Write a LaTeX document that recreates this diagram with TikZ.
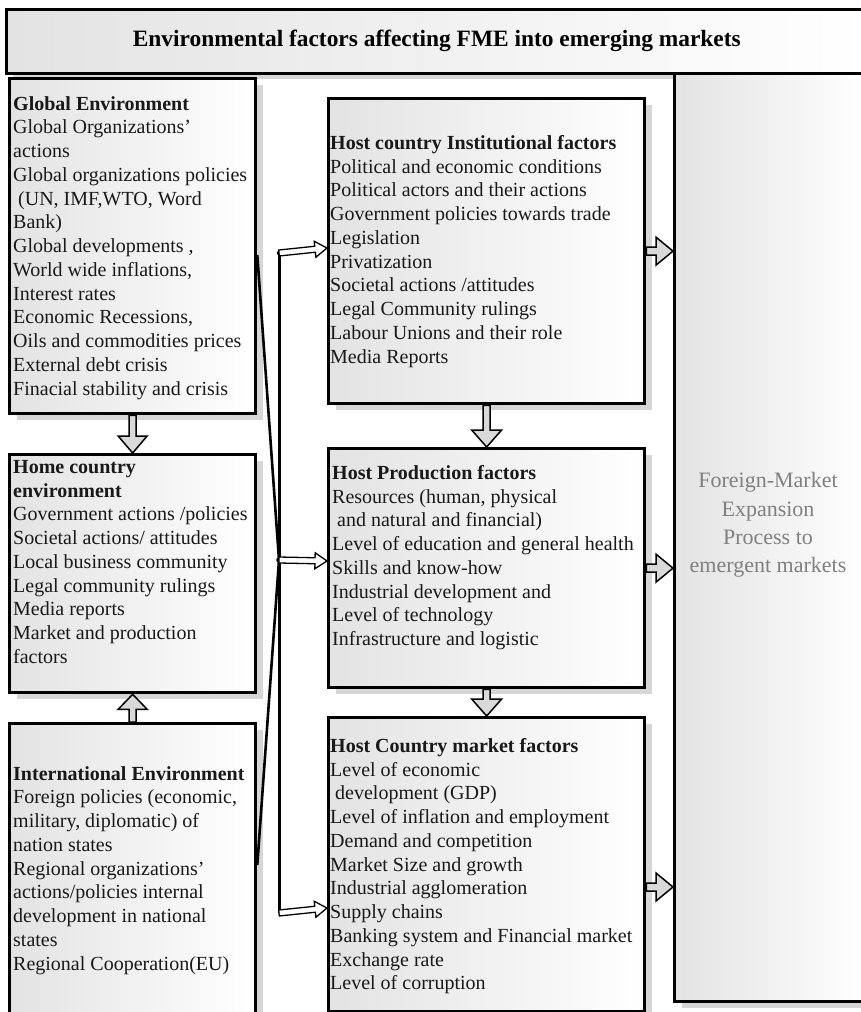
\documentclass[tikz,border=0pt]{standalone}
\usepackage{fontspec}
\setmainfont{Liberation Serif}
\usetikzlibrary{calc,shadows}
\begin{document}
\begin{tikzpicture}[x=1pt,y=-1pt,
  panel/.style={draw=black, line width=3.3pt, anchor=north west, inner sep=0pt,
    left color=black!11, right color=white,
    drop shadow={shadow xshift=7pt, shadow yshift=-6pt, fill=black!16, opacity=1}},
  body/.style={anchor=north west, inner sep=0pt, align=left, text=black!90,
    font=\fontsize{20}{23.75}\selectfont},
  blockarrow/.style n args={3}{to path={
    ($(\tikztotarget)!#3!(\tikztostart)$) coordinate (bahead)
    ($(\tikztostart)!#1!90:(\tikztotarget)$)
    -- ($(bahead)!#1!-90:(\tikztostart)$)
    -- ($(bahead)!#2!-90:(\tikztostart)$)
    -- (\tikztotarget)
    -- ($(bahead)!#2!90:(\tikztostart)$)
    -- ($(bahead)!#1!90:(\tikztostart)$)
    -- ($(\tikztostart)!#1!-90:(\tikztotarget)$)
    -- cycle}},
  fatarrow/.style={draw=black, line width=1.5pt, fill=black!15, line join=miter},
  thinarrow/.style={draw=black, line width=1.3pt, fill=white, line join=miter},
  link/.style={draw=black, line width=2.6pt},
]
\useasboundingbox (0,0) rectangle (860,1012);

% title bar
\node[panel, line width=2.6pt, minimum width=861, minimum height=64] (title) at (5,8) {};
\node[inner sep=0pt, font=\bfseries\fontsize{23.4}{28}\selectfont] (titletext)
  at (title.center) {Environmental factors affecting FME into emerging markets};

% expansion process column
\node[panel, minimum width=193, minimum height=928] (fme) at (673,72) {};
\node[inner sep=0pt, align=center, text=black!50, font=\fontsize{22}{28.3}\selectfont]
  (fmetext) at (768,525) {Foreign-Market\\Expansion\\Process to\\emergent markets};

% left column
\node[panel, minimum width=246, minimum height=335] (glob) at (8,77) {};
\node[panel, minimum width=246, minimum height=238] (home) at (8,453) {};
\node[panel, minimum width=246, minimum height=294] (intl) at (8,722) {};

% host column
\node[panel, minimum width=316, minimum height=305] (inst) at (327,97) {};
\node[panel, minimum width=316, minimum height=239] (prod) at (327,447) {};
\node[panel, minimum width=316, minimum height=294] (mkt) at (327,716) {};

% box texts
\node[body] (globtext) at (13,96) {\textbf{Global Environment}\\
Global Organizations’\\
actions\\
Global organizations policies\\
\hspace{5pt}(UN, IMF,WTO, Word\\
Bank)\\
Global developments ,\\
World wide inflations,\\
Interest rates\\
Economic Recessions,\\
Oils and commodities prices\\
External debt crisis\\
Finacial stability and crisis};

\node[body] (hometext) at (13,460) {\textbf{Home country}\\
\textbf{environment}\\
Government actions /policies\\
Societal actions/ attitudes\\
Local business community\\
Legal community rulings\\
Media reports\\
Market and production\\
factors};

\node[body] (intltext) at (13,766) {\textbf{International Environment}\\
Foreign policies (economic,\\
military, diplomatic) of\\
nation states\\
Regional organizations’\\
actions/policies internal\\
development in national\\
states\\
Regional Cooperation(EU)};

\node[body] (insttext) at (330,135) {\textbf{Host country Institutional factors}\\
Political and economic conditions\\
Political actors and their actions\\
Government policies towards trade\\
Legislation\\
Privatization\\
Societal actions /attitudes\\
Legal Community rulings\\
Labour Unions and their role\\
Media Reports};

\node[body] (prodtext) at (332,465) {\textbf{Host Production factors}\\
Resources (human, physical\\
\hspace{5pt}and natural and financial)\\
Level of education and general health\\
Skills and know-how\\
Industrial development and\\
Level of technology\\
Infrastructure and logistic};

\node[body] (mkttext) at (330,738) {\textbf{Host Country market factors}\\
Level of economic\\
\hspace{5pt}development (GDP)\\
Level of inflation and employment\\
Demand and competition\\
Market Size and growth\\
Industrial agglomeration\\
Supply chains\\
Banking system and Financial market\\
Exchange rate\\
Level of corruption};

% block arrows between boxes
\coordinate (mktout) at ($(mkt.north east)+(0,171)$);
\draw[fatarrow] (glob.south) to[blockarrow={3.5pt}{14.5pt}{17pt}] (home.north);
\draw[fatarrow] (intl.north) to[blockarrow={3.5pt}{14.5pt}{15pt}] (home.south);
\draw[fatarrow] (inst.south) to[blockarrow={3.5pt}{15pt}{17pt}] (prod.north);
\draw[fatarrow] (prod.south) to[blockarrow={3.5pt}{15pt}{17pt}] (mkt.north);
\draw[fatarrow] (inst.east) to[blockarrow={4pt}{14pt}{17pt}] (inst.east -| fme.west);
\draw[fatarrow] (prod.east) to[blockarrow={4pt}{14pt}{17pt}] (prod.east -| fme.west);
\draw[fatarrow] (mktout) to[blockarrow={4pt}{14pt}{17pt}] (mktout -| fme.west);

% distribution bracket and links
\coordinate (jt) at (279,253);
\coordinate (jm) at (279,560);
\coordinate (jb) at (279,913);
\coordinate (gout) at ($(glob.north east)+(0,178)$);
\coordinate (iout) at ($(intl.north east)+(0,143)$);
\coordinate (instin) at ($(inst.north west)+(0,151)$);
\coordinate (prodin) at ($(prod.north west)+(0,114)$);
\coordinate (mktin) at ($(mkt.north west)+(0,192)$);
\draw[link, line width=3pt] (jt) -- (jb);
\draw[link, line join=bevel] (gout) -- (jm) -- (iout);
\fill (jt) circle (2.2);
\fill (jm) circle (2.8);
\draw[thinarrow] (jt) to[blockarrow={3pt}{8pt}{12pt}] (instin);
\draw[thinarrow] (jm) to[blockarrow={3pt}{8pt}{12pt}] (prodin);
\draw[thinarrow] (jb) to[blockarrow={3pt}{8pt}{12pt}] (mktin);
\end{tikzpicture}
\end{document}
